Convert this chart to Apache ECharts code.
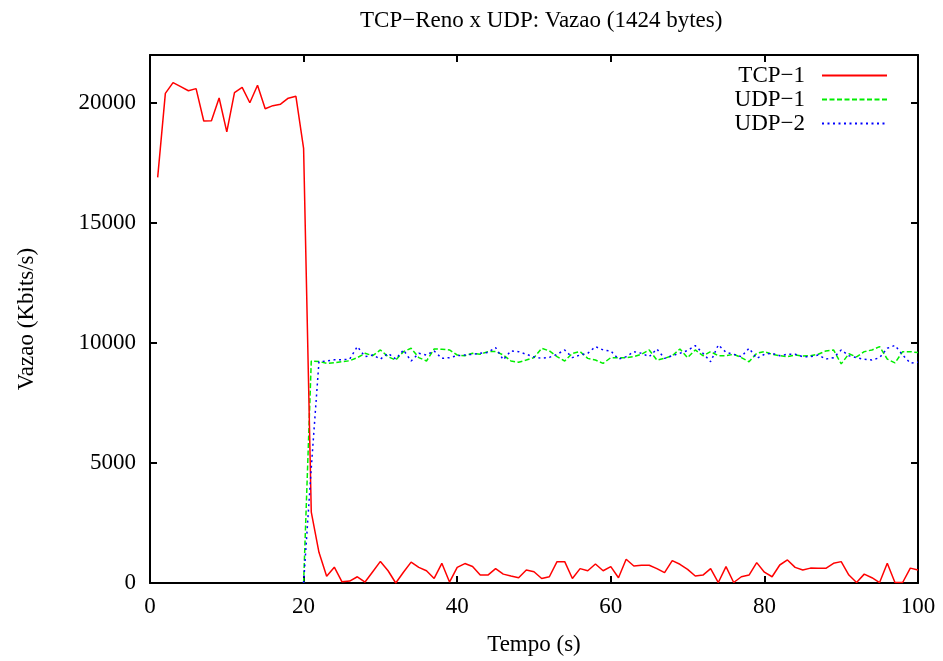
<!DOCTYPE html>
<html>
<head>
<meta charset="utf-8">
<script src="https://cdn.jsdelivr.net/npm/echarts@6/dist/echarts.min.js"></script>
<style>
html,body{margin:0;padding:0;background:#fff;}
#chart{width:943px;height:661px;}
</style>
</head>
<body>
<div id="chart"></div>
<script>
// ---- data ----
var titleText = 'TCP\u2212Reno x UDP: Vazao (1424 bytes)';
var xName = 'Tempo (s)';
var yName = 'Vazao (Kbits/s)';
var seriesNames = ['TCP\u22121', 'UDP\u22121', 'UDP\u22122'];

var tcpTime = [1,2,3,4,5,6,7,8,9,10,11,12,13,14,15,16,17,18,19,20,
  21,22,23,24,25,26,27,28,29,30,31,32,33,34,35,36,37,38,39,40,
  41,42,43,44,45,46,47,48,49,50,51,52,53,54,55,56,57,58,59,60,
  61,62,63,64,65,66,67,68,69,70,71,72,73,74,75,76,77,78,79,80,
  81,82,83,84,85,86,87,88,89,90,91,92,93,94,95,96,97,98,99,100];
var tcpValues = [16900,20400,20850,20680,20510,20600,19250,19260,20210,18800,
  20430,20650,20010,20740,19760,19890,19950,20200,20280,18110,
  2950,1280,280,660,50,80,260,40,470,900,
  510,0,450,870,650,510,190,820,40,650,
  810,690,330,330,600,370,290,220,540,470,
  190,260,890,890,190,600,510,790,510,680,
  220,990,710,740,740,600,430,930,780,570,
  290,330,600,20,680,20,260,330,850,450,
  260,750,960,650,540,620,610,610,820,890,
  330,20,370,220,20,820,20,20,620,540];

var udpTime = [20,21,22,23,24,25,26,27,28,29,30,31,32,33,34,35,36,37,38,39,40,
  41,42,43,44,45,46,47,48,49,50,51,52,53,54,55,56,57,58,59,60,
  61,62,63,64,65,66,67,68,69,70,71,72,73,74,75,76,77,78,79,80,
  81,82,83,84,85,86,87,88,89,90,91,92,93,94,95,96,97,98,99,100];
var udp1Values = [0,9250,9230,9150,9180,9220,9260,9390,9570,9470,9710,
  9430,9290,9640,9780,9390,9250,9750,9740,9710,9500,
  9470,9570,9530,9640,9650,9500,9250,9200,9290,9390,
  9780,9670,9430,9250,9570,9640,9360,9290,9150,9390,
  9390,9390,9430,9530,9710,9290,9360,9470,9750,9390,
  9710,9470,9640,9470,9470,9530,9390,9220,9570,9640,
  9530,9470,9430,9500,9460,9470,9530,9670,9710,9130,
  9550,9420,9640,9710,9850,9330,9170,9640,9640,9600];
var udp2Values = [0,4800,9220,9250,9300,9300,9330,9850,9430,9500,9330,
  9570,9330,9710,9250,9570,9500,9670,9360,9390,9470,
  9500,9530,9570,9610,9810,9300,9670,9640,9530,9420,
  9360,9400,9530,9710,9390,9500,9570,9850,9710,9670,
  9330,9430,9640,9570,9430,9750,9360,9470,9570,9690,
  9890,9570,9220,9920,9610,9530,9430,9780,9360,9530,
  9570,9470,9530,9530,9430,9430,9500,9330,9390,9710,
  9470,9390,9320,9290,9390,9780,9900,9500,9160,9200];

var xMin = 0, xMax = 100, xStep = 20;
var yMin = 0, yMax = 22000, yStep = 5000;

// ---- build chart ----
function pairs(ts, vs){ return ts.map(function(t,i){ return [t, vs[i]]; }); }

var FONT = 'Liberation Serif';
var FS = 23;
var axisLineStyle = {color:'#000', width:2};

var chart = echarts.init(document.getElementById('chart'), null, {renderer:'canvas'});
var legendBase = {
  orient:'vertical', right:55, padding:0, align:'right',
  itemWidth:65, itemHeight:14, itemGap:2, selectedMode:false,
  itemStyle:{opacity:0},
  textStyle:{fontFamily:FONT, fontSize:FS, color:'#000', lineHeight:22, padding:[0,12,0,0]}
};
chart.setOption({
  animation:false,
  backgroundColor:'#fff',
  title:{text:titleText, left:355, top:4,
    textStyle:{fontFamily:FONT, fontSize:FS, fontWeight:'normal', color:'#000'}},
  legend:[
    Object.assign({}, legendBase, {data:[seriesNames[0]], top:64}),
    Object.assign({}, legendBase, {data:[seriesNames[1]], top:88}),
    Object.assign({}, legendBase, {data:[seriesNames[2]], top:112})
  ],
  grid:{left:150, right:25, top:55, bottom:78, containLabel:false},
  xAxis:[{
    type:'value', min:xMin, max:xMax, interval:xStep, position:'bottom',
    name:xName, nameLocation:'middle', nameGap:50,
    nameTextStyle:{fontFamily:FONT, fontSize:FS, color:'#000'},
    axisLine:{show:true, onZero:false, lineStyle:axisLineStyle},
    axisTick:{show:true, inside:true, length:7, lineStyle:axisLineStyle},
    axisLabel:{fontFamily:FONT, fontSize:FS, color:'#000', margin:12},
    splitLine:{show:false}
  },{
    type:'value', min:xMin, max:xMax, interval:xStep, position:'top',
    axisLine:{show:true, onZero:false, lineStyle:axisLineStyle},
    axisTick:{show:true, inside:true, length:7, lineStyle:axisLineStyle},
    axisLabel:{show:false}, splitLine:{show:false}
  }],
  yAxis:[{
    type:'value', min:yMin, max:yMax, interval:yStep, position:'left',
    name:yName, nameLocation:'middle', nameGap:112,
    nameTextStyle:{fontFamily:FONT, fontSize:FS, color:'#000'},
    axisLine:{show:true, onZero:false, lineStyle:axisLineStyle},
    axisTick:{show:true, inside:true, length:7, lineStyle:axisLineStyle},
    axisLabel:{fontFamily:FONT, fontSize:FS, color:'#000', margin:14,
      formatter:function(v){ return v > 20000 ? '' : String(v); }},
    splitLine:{show:false}
  },{
    type:'value', min:yMin, max:yMax, interval:yStep, position:'right',
    axisLine:{show:true, onZero:false, lineStyle:axisLineStyle},
    axisTick:{show:true, inside:true, length:7, lineStyle:axisLineStyle},
    axisLabel:{show:false}, splitLine:{show:false}
  }],
  series:[
    {name:seriesNames[0], type:'line', symbol:'none', data:pairs(tcpTime, tcpValues),
      color:'#ff0000', lineStyle:{color:'#ff0000', width:1.5}, z:3},
    {name:seriesNames[1], type:'line', symbol:'none', data:pairs(udpTime, udp1Values),
      color:'#00ee00', lineStyle:{color:'#00ee00', width:1.5, type:[5,2.5]}, z:2},
    {name:seriesNames[2], type:'line', symbol:'none', data:pairs(udpTime, udp2Values),
      color:'#0000ff', lineStyle:{color:'#0000ff', width:1.5, type:[2,3.5]}, z:4}
  ]
});
</script>
</body>
</html>
